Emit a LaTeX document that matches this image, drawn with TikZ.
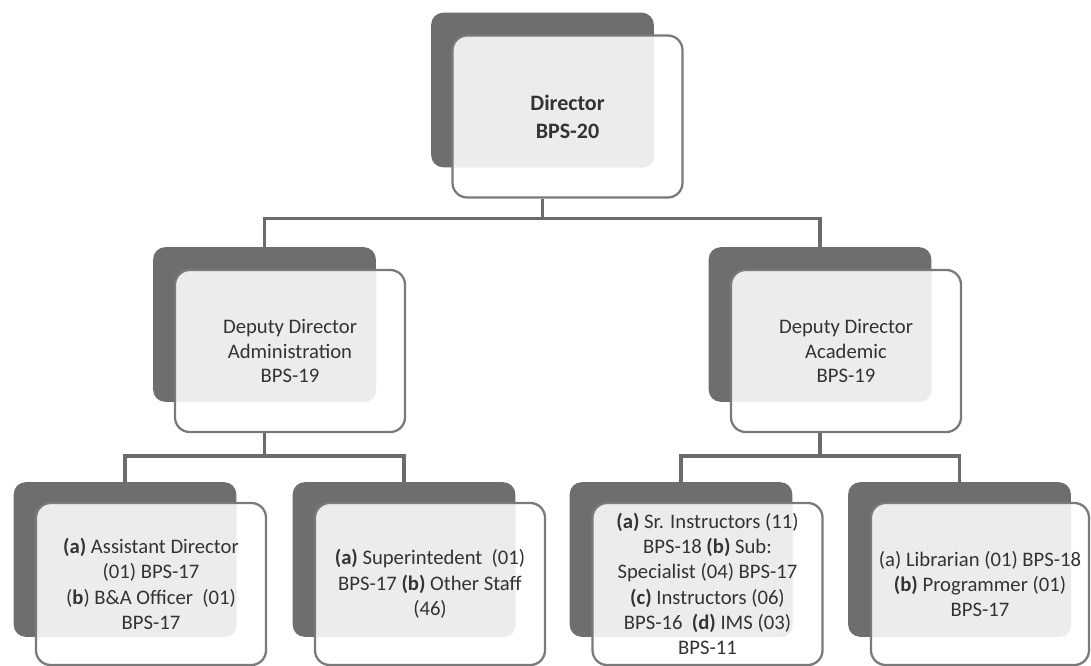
\documentclass[tikz,border=0pt]{standalone}
\usepackage{fontspec}
\setmainfont{Carlito}
\definecolor{backcol}{HTML}{6E6E6E}
\definecolor{ovlcol}{HTML}{ECECEC}
\definecolor{bordercol}{HTML}{7A7A7A}
\definecolor{linecol}{HTML}{6B6B6B}
\definecolor{txtcol}{HTML}{333333}
\begin{document}
\begin{tikzpicture}[x=0.75pt,y=-0.75pt,
  backbox/.style={rectangle, rounded corners=9pt, fill=backcol,
    minimum width=167pt, minimum height=116pt, inner sep=0pt},
  frontbox/.style={rectangle, rounded corners=11pt, draw=bordercol,
    line width=1.7pt, fill=white, minimum width=172.5pt,
    minimum height=121.5pt, inner sep=0pt, align=center, text=txtcol,
    font=\fontsize{15.5}{19}\selectfont,
    path picture={\fill[ovlcol, rounded corners=9pt]
      ([shift={(-30,-30)}]path picture bounding box.north west)
      rectangle (#1.south east);}},
  conn/.style={draw=linecol, line width=2.7pt}]
\useasboundingbox (0,0) rectangle (1091,666);

% top level
\node[backbox] (dirB) at (542.5,90) {};
\node[frontbox=dirB, font=\bfseries\fontsize{16.5}{21}\selectfont] (dirF) at (567.5,116.5) {Director\\BPS-20};

% middle level
\node[backbox] (admB) at (264.5,324.5) {};
\node[frontbox=admB, font=\fontsize{15.5}{18.5}\selectfont] (admF) at (290,351) {Deputy Director\\Administration\\BPS-19};
\node[backbox] (acaB) at (820,324.5) {};
\node[frontbox=acaB, font=\fontsize{15.5}{18.5}\selectfont] (acaF) at (846,351) {Deputy Director\\Academic\\BPS-19};

% bottom level
\node[backbox] (b1B) at (125,559.5) {};
\node[frontbox=b1B] (b1F) at (151,584) {\textbf{(a)} Assistant Director\\(01) BPS-17\\(\textbf{b}) B\&A Officer\ \ (01)\\BPS-17};
\node[backbox] (b2B) at (404,559.5) {};
\node[frontbox=b2B] (b2F) at (430,584) {\textbf{(a)} Superintedent\ \ (01)\\BPS-17 \textbf{(b)} Other Staff\\(46)};
\node[backbox] (b3B) at (681,559.5) {};
\node[frontbox=b3B] (b3F) at (707.5,584) {\textbf{(a)} Sr. Instructors (11)\\BPS-18 \textbf{(b)} Sub:\\Specialist (04) BPS-17\\\textbf{(c)} Instructors (06)\\BPS-16\ \ \textbf{(d)} IMS (03)\\BPS-11};
\node[backbox] (b4B) at (959.5,559.5) {};
\node[frontbox=b4B, minimum width=163.5pt] (b4F) at (980,584) {(a) Librarian (01) BPS-18\\\textbf{(b)} Programmer (01)\\BPS-17};

% connectors
\draw[conn] (dirF.south -| dirB) -- ++(0,20) -| (admB.north);
\draw[conn] (dirF.south -| dirB) -- ++(0,20) -| (acaB.north);
\draw[conn] (admF.south -| admB) -- ++(0,23) -| (b1B.north);
\draw[conn] (admF.south -| admB) -- ++(0,23) -| (b2B.north);
\draw[conn] (acaF.south -| acaB) -- ++(0,23) -| (b3B.north);
\draw[conn] (acaF.south -| acaB) -- ++(0,23) -| (b4B.north);
\end{tikzpicture}
\end{document}
